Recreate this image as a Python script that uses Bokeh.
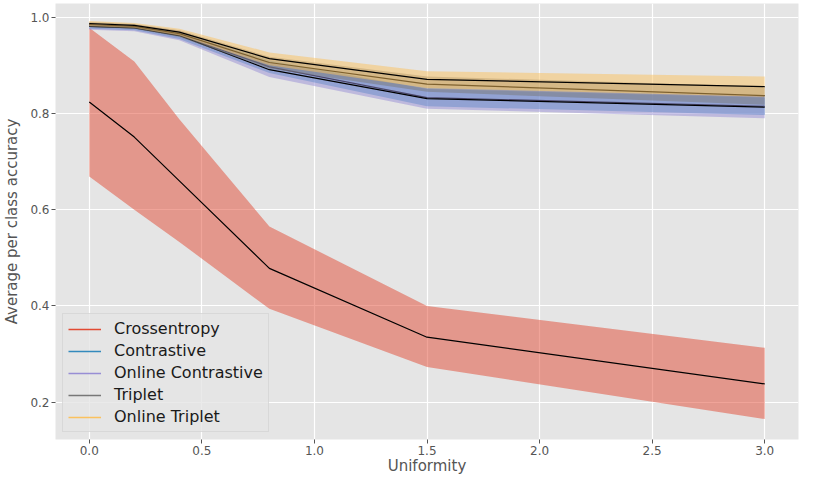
from bokeh.plotting import figure
from bokeh.models import Legend, LegendItem, FixedTicker, Range1d, NumeralTickFormatter
from bokeh.embed import file_html
from bokeh.resources import INLINE

# ---- data ----
uniformity = [0.0, 0.2, 0.4, 0.8, 1.5, 3.0]

series_names = ["Crossentropy", "Contrastive", "Online Contrastive", "Triplet", "Online Triplet"]
series_colors = ["#E24A33", "#348ABD", "#988ED5", "#777777", "#FBC15E"]

ce_mean = [0.824, 0.751, 0.660, 0.478, 0.335, 0.238]
ce_low = [0.669, 0.600, 0.533, 0.394, 0.273, 0.165]
ce_high = [0.978, 0.908, 0.788, 0.565, 0.400, 0.313]

con_mean = [0.982, 0.979, 0.963, 0.897, 0.833, 0.815]
con_low = [0.976, 0.973, 0.955, 0.884, 0.815, 0.797]
con_high = [0.988, 0.985, 0.971, 0.910, 0.851, 0.833]

ocon_mean = [0.981, 0.978, 0.962, 0.891, 0.831, 0.813]
ocon_low = [0.974, 0.971, 0.952, 0.876, 0.810, 0.790]
ocon_high = [0.988, 0.985, 0.972, 0.906, 0.852, 0.836]

tri_mean = [0.985, 0.981, 0.966, 0.906, 0.861, 0.837]
tri_low = [0.980, 0.976, 0.959, 0.893, 0.845, 0.818]
tri_high = [0.990, 0.986, 0.973, 0.918, 0.877, 0.856]

otri_mean = [0.987, 0.983, 0.969, 0.914, 0.871, 0.856]
otri_low = [0.982, 0.978, 0.962, 0.900, 0.853, 0.835]
otri_high = [0.992, 0.988, 0.976, 0.927, 0.888, 0.877]

means = [ce_mean, con_mean, ocon_mean, tri_mean, otri_mean]
lows = [ce_low, con_low, ocon_low, tri_low, otri_low]
highs = [ce_high, con_high, ocon_high, tri_high, otri_high]

x_ticks = [0.0, 0.5, 1.0, 1.5, 2.0, 2.5, 3.0]
y_ticks = [0.2, 0.4, 0.6, 0.8, 1.0]

FONT = "DejaVu Sans"

p = figure(width=802, height=477, output_backend="svg", toolbar_location=None,
           x_range=Range1d(-0.15, 3.15), y_range=Range1d(0.1224, 1.0286),
           background_fill_color="#E5E5E5", border_fill_color="white",
           min_border_left=50, min_border_right=4, min_border_top=3, min_border_bottom=10)
p.outline_line_color = None

for ax in (p.xaxis[0], p.yaxis[0]):
    ax.axis_line_color = None
    ax.major_tick_line_color = "#555555"
    ax.major_tick_out = 4
    ax.major_tick_in = 0
    ax.minor_tick_line_color = None
    ax.major_label_text_color = "#555555"
    ax.major_label_text_font = FONT
    ax.major_label_text_font_size = "12px"
    ax.axis_label_text_color = "#555555"
    ax.axis_label_text_font = FONT
    ax.axis_label_text_font_size = "15px"
    ax.axis_label_text_font_style = "normal"
    ax.major_label_standoff = 2
    ax.formatter = NumeralTickFormatter(format="0.0")

p.xaxis.ticker = FixedTicker(ticks=x_ticks)
p.yaxis.ticker = FixedTicker(ticks=y_ticks)
p.xaxis.axis_label = "Uniformity"
p.yaxis.axis_label = "Average per class accuracy"
p.xaxis.axis_label_standoff = -1
p.yaxis.axis_label_standoff = 6

p.xgrid.grid_line_color = "white"
p.ygrid.grid_line_color = "white"
p.xgrid.grid_line_width = 1.2
p.ygrid.grid_line_width = 1.2

items = []
for name, col, m, lo, hi in zip(series_names, series_colors, means, lows, highs):
    p.varea(x=uniformity, y1=lo, y2=hi, fill_color=col, fill_alpha=0.5)
    p.line(x=uniformity, y=m, line_color="black", line_width=1.2)
    proxy = p.line(x=uniformity, y=m, line_color=col, line_width=1.5, visible=False)
    items.append(LegendItem(label=name, renderers=[proxy]))

legend = Legend(items=items, location="bottom_left")
legend.label_text_font = FONT
legend.label_text_font_size = "16px"
legend.label_text_color = "#1a1a1a"
legend.background_fill_color = "#E5E5E5"
legend.background_fill_alpha = 0.8
legend.border_line_color = "#CCCCCC"
legend.border_line_width = 1
legend.inactive_fill_alpha = 0.0
legend.glyph_width = 33
legend.glyph_height = 18
legend.label_height = 18
legend.spacing = 3
legend.padding = 5
legend.margin = 7
legend.label_standoff = 13
legend.click_policy = "none"
p.add_layout(legend)

open("out.html", "w").write(file_html(p, INLINE))
